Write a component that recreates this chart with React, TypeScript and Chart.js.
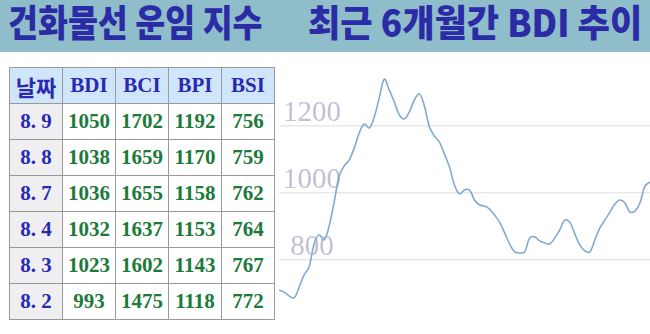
import React, { useEffect, useRef } from "react";
import { Chart, registerables } from "chart.js";

Chart.register(...registerables);

const titleLeft = "건화물선 운임 지수";
const titleRight = "최근 6개월간 BDI 추이";

const tableHeaders = ["날짜", "BDI", "BCI", "BPI", "BSI"];
const tableDates = ["8. 9", "8. 8", "8. 7", "8. 4", "8. 3", "8. 2"];
const bdiValues = [1050, 1038, 1036, 1032, 1023, 993];
const bciValues = [1702, 1659, 1655, 1637, 1602, 1475];
const bpiValues = [1192, 1170, 1158, 1153, 1143, 1118];
const bsiValues = [756, 759, 762, 764, 767, 772];

// BDI trend over the last 6 months (evenly spaced samples)
const bdiTrend = [
  710, 704, 693, 687, 718, 755, 779, 848, 875, 860,
  901, 973, 1050, 1081, 1098, 1134, 1179, 1206, 1194, 1227,
  1284, 1340, 1307, 1272, 1233, 1221, 1242, 1278, 1296, 1260,
  1197, 1170, 1152, 1116, 1078, 1024, 997, 1009, 1009, 979,
  964, 961, 952, 934, 913, 881, 848, 824, 821, 824,
  866, 869, 857, 851, 848, 866, 890, 919, 913, 878,
  845, 827, 824, 860, 896, 919, 943, 967, 979, 970,
  943, 946, 970, 1021, 1033,
];
const trendLabels = bdiTrend.map((_, i) => String(i + 1));
const yTickValues = [800, 1000, 1200];
const yMin = 600;
const yMax = 1400;

function BdiChart() {
  const ref = useRef<HTMLCanvasElement | null>(null);
  useEffect(() => {
    if (!ref.current) return;
    const chart = new Chart(ref.current, {
      type: "line",
      data: {
        labels: trendLabels,
        datasets: [
          {
            data: bdiTrend,
            borderColor: "#82aad0",
            borderWidth: 1.6,
            pointRadius: 0,
            tension: 0.35,
            fill: false,
          },
        ],
      },
      options: {
        animation: false,
        responsive: false,
        layout: { padding: 0 },
        plugins: { legend: { display: false }, tooltip: { enabled: false } },
        scales: {
          x: { display: false },
          y: {
            min: yMin,
            max: yMax,
            border: { display: false },
            grid: { color: "#e8e8e8", lineWidth: 1.5, drawTicks: false },
            afterBuildTicks: (s: any) => {
              s.ticks = yTickValues.map((v) => ({ value: v }));
            },
            afterFit: (s: any) => {
              s.paddingTop = 0;
              s.paddingBottom = 0;
              s.width = 0;
            },
            ticks: {
              mirror: true,
              crossAlign: "center",
              padding: 4,
              labelOffset: -13,
              color: "#c4bed8",
              font: { family: "'Liberation Serif', serif", size: 29 },
              callback: (v: any) => String(v),
            },
          },
        },
      },
    } as any);
    return () => chart.destroy();
  }, []);
  return (
    <canvas
      ref={ref}
      width={371}
      height={268}
      style={{ position: "absolute", left: 279, top: 59, width: 371, height: 268 }}
    />
  );
}

export default function App() {
  const cellBase: React.CSSProperties = {
    border: "1px solid #9a9a9a",
    textAlign: "center",
    padding: 0,
    height: 35,
    fontFamily: "'Liberation Serif', serif",
    fontWeight: "bold",
    fontSize: 21,
  };
  const titleStyle: React.CSSProperties = {
    position: "absolute",
    top: 3,
    fontFamily: "'Noto Sans CJK KR', sans-serif",
    fontWeight: 900,
    fontSize: 37,
    lineHeight: "37px",
    color: "#2b2ba6",
    whiteSpace: "nowrap",
    transformOrigin: "left top",
  };
  const rows = tableDates.map((d, i) => [d, bdiValues[i], bciValues[i], bpiValues[i], bsiValues[i]]);
  return (
    <div
      style={{
        position: "fixed",
        left: 0,
        top: 0,
        width: 650,
        height: 334,
        overflow: "hidden",
        background: "#ffffff",
      }}
    >
      <div
        style={{
          position: "absolute",
          left: 0,
          top: 0,
          width: 650,
          height: 52,
          background: "#8fbdc9",
        }}
      />
      <div style={{ ...titleStyle, left: 8, transform: "scaleX(0.88)" }}>{titleLeft}</div>
      <div style={{ ...titleStyle, left: 308, transform: "scaleX(0.95)" }}>{titleRight}</div>
      <BdiChart />
      <table
        style={{
          position: "absolute",
          left: 9,
          top: 67,
          width: 266,
          borderCollapse: "collapse",
          tableLayout: "fixed",
          background: "#ffffff",
        }}
      >
        <thead>
          <tr>
            {tableHeaders.map((h, i) => (
              <th
                key={h}
                style={{
                  ...cellBase,
                  background: "#cfe5f9",
                  color: "#2a2ab0",
                  fontFamily: i === 0 ? "'Noto Sans CJK KR', sans-serif" : cellBase.fontFamily,
                  fontSize: i === 0 ? 22 : 21,
                }}
              >
                {h}
              </th>
            ))}
          </tr>
        </thead>
        <tbody>
          {rows.map((r) => (
            <tr key={String(r[0])}>
              {r.map((c, j) => (
                <td
                  key={j}
                  style={{
                    ...cellBase,
                    background: j === 0 ? "#efeff2" : "#ffffff",
                    color: j === 0 ? "#2a2ab0" : "#1c7a3a",
                  }}
                >
                  {c}
                </td>
              ))}
            </tr>
          ))}
        </tbody>
      </table>
    </div>
  );
}
